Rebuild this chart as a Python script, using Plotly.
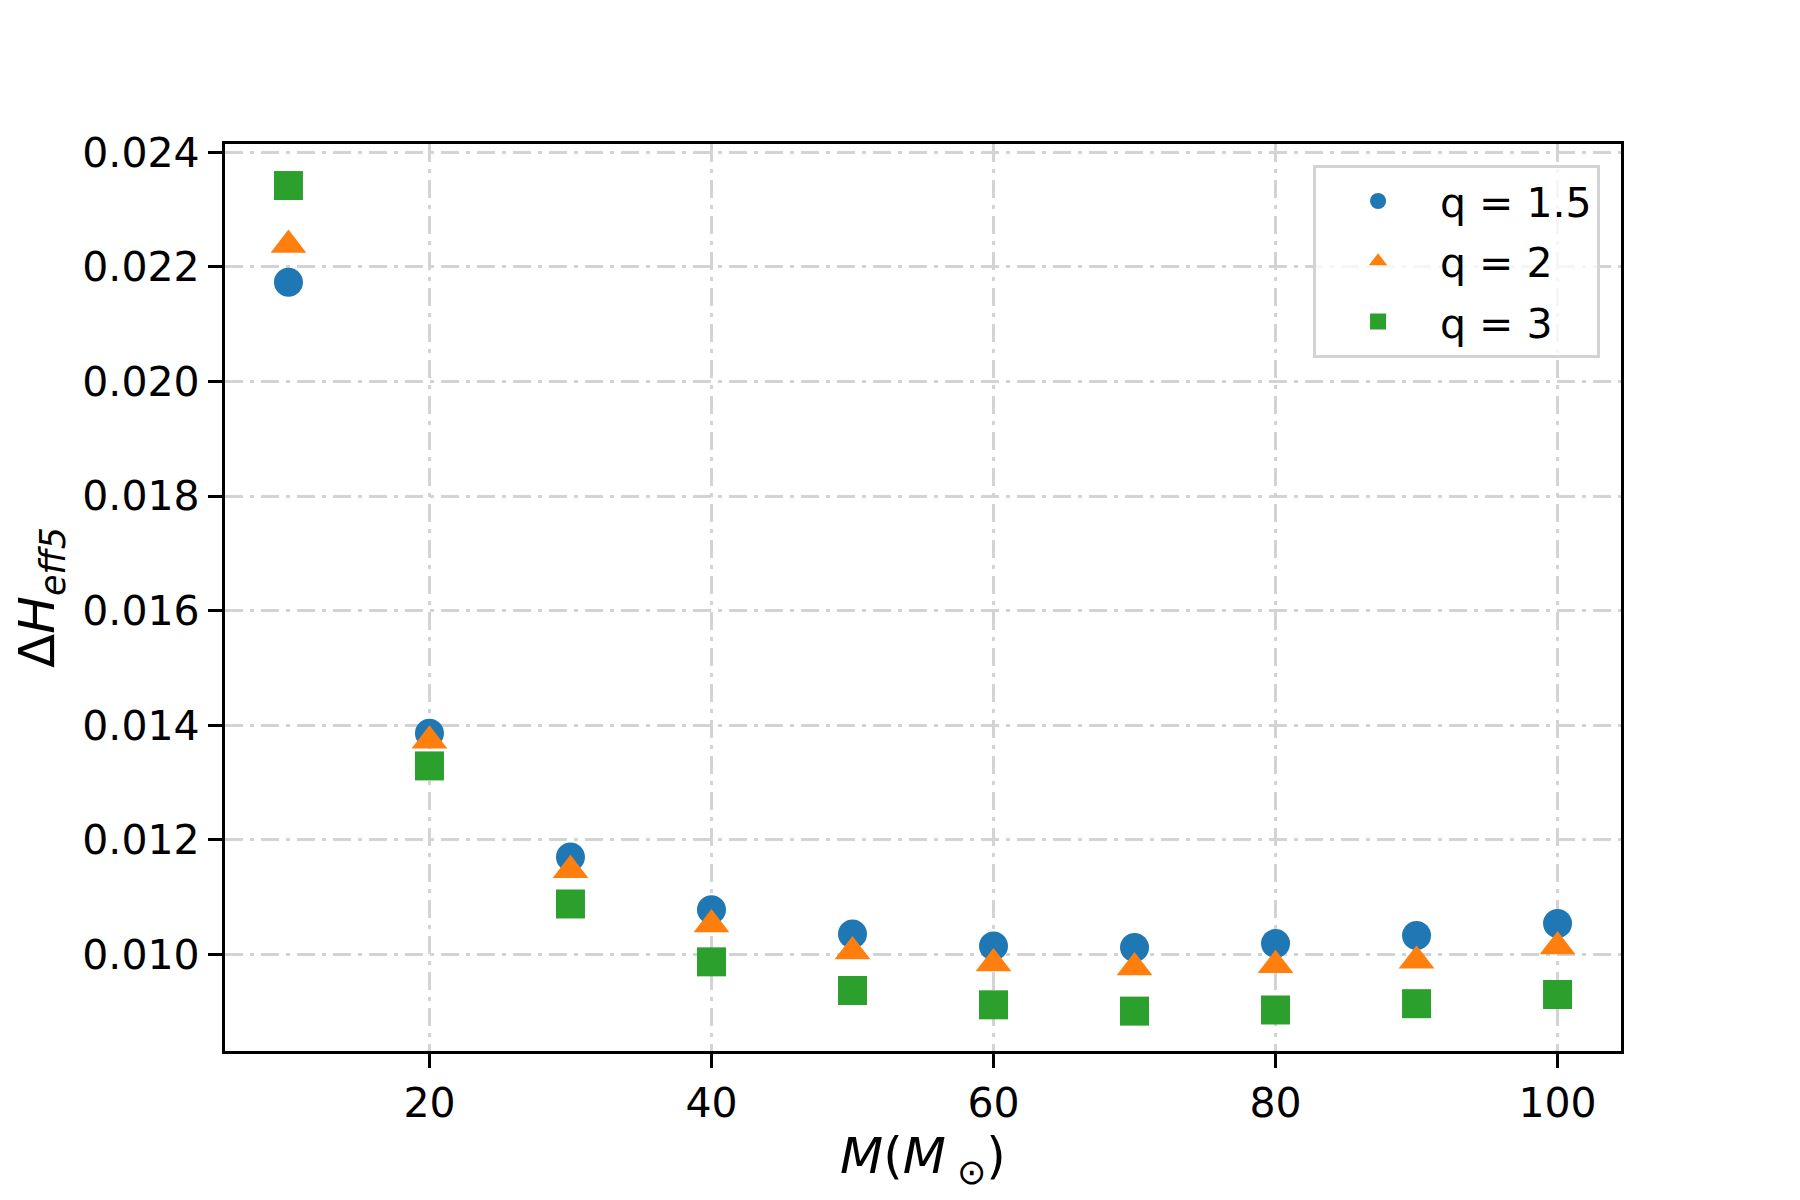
import plotly.graph_objects as go

# ---- data ----
masses = [10, 20, 30, 40, 50, 60, 70, 80, 90, 100]
q15_vals = [0.02173, 0.01386, 0.01170, 0.01078, 0.010355, 0.010145, 0.01012, 0.01019, 0.01033, 0.01054]
q2_vals = [0.02238, 0.01373, 0.01147, 0.01052, 0.01005, 0.00984, 0.00977, 0.00981, 0.00989, 0.01014]
q3_vals = [0.02342, 0.01329, 0.01088, 0.00987, 0.00937, 0.00912, 0.00901, 0.00903, 0.00914, 0.00930]
series_names = ["q = 1.5", "q = 2", "q = 3"]
x_ticks = [20, 40, 60, 80, 100]
y_ticks = [0.010, 0.012, 0.014, 0.016, 0.018, 0.020, 0.022, 0.024]

colors = ["#1f77b4", "#ff7f0e", "#2ca02c"]
symbols = ["circle", "triangle-up", "square"]
sizes = [29, 31, 29]
FONT = "DejaVu Sans"

fig = go.Figure()
for i, (name, vals) in enumerate(zip(series_names, [q15_vals, q2_vals, q3_vals])):
    fig.add_trace(go.Scatter(
        x=masses, y=vals, mode="markers", name=name,
        legendgroup=f"g{i}",
        marker=dict(symbol=symbols[i], size=sizes[i], color=colors[i],
                    line=dict(width=0)),
    ))

grid_dash = "18px,7px,4px,7px"
axis_common = dict(
    showline=True, linecolor="black", linewidth=3.3, mirror=True,
    ticks="outside", ticklen=14, tickwidth=3.3, tickcolor="black",
    showgrid=True, gridcolor="#d3d3d3", gridwidth=3, griddash=grid_dash,
    zeroline=False, automargin=False,
    tickfont=dict(family=FONT, size=41, color="black"),
)

fig.update_xaxes(
    range=[5.5, 104.5], tickvals=x_ticks, ticktext=[str(v) for v in x_ticks],
    title=dict(text="<i>M</i>(<i>M</i><sub> ⊙</sub>)", font=dict(family=FONT, size=50, color="black"),
               standoff=10),
    **axis_common,
)
fig.update_yaxes(
    range=[0.008314, 0.024145], tickvals=y_ticks, tickformat=".3f",
    title=dict(text="Δ<i>H</i><sub><i>eff5</i></sub>", font=dict(family=FONT, size=50, color="black"),
               standoff=32),
    **axis_common,
)

# page body has an 8px margin, so the figure is shrunk/shifted to keep the plot area in place
fig.update_layout(
    width=1792, height=1192,
    margin=dict(l=217, r=179, t=136, b=149),
    paper_bgcolor="white", plot_bgcolor="white",
    font=dict(family=FONT, color="black"),
    showlegend=True,
    legend=dict(
        x=0.985, y=0.977, xanchor="right", yanchor="top",
        bgcolor="rgba(255,255,255,0.8)", bordercolor="#d3d3d3", borderwidth=3,
        font=dict(family=FONT, size=41, color="black"),
        traceorder="grouped", tracegroupgap=4,
        itemwidth=114,
    ),
)

fig.write_html("out.html")
